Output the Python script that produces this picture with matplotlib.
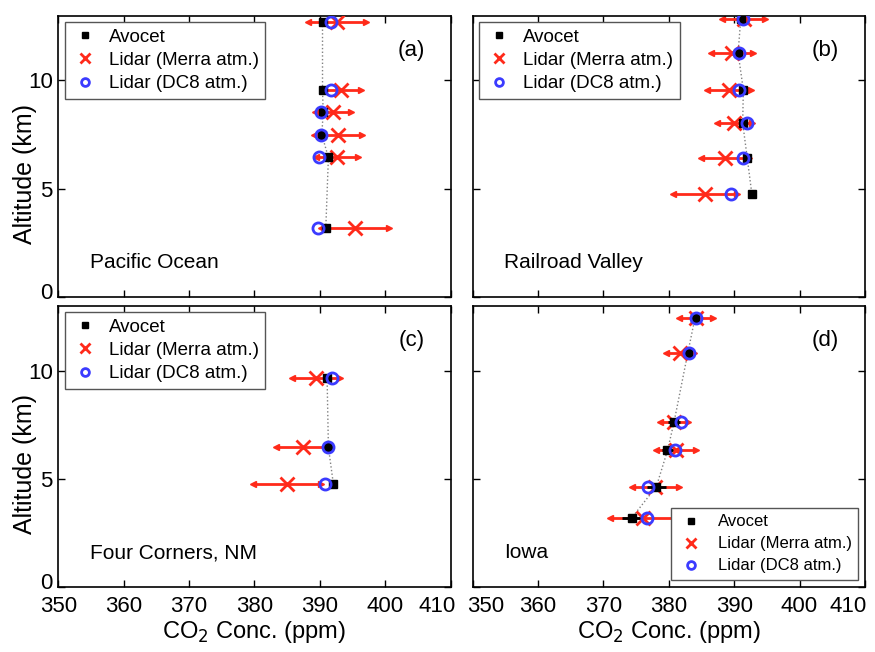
import matplotlib
matplotlib.use("Agg")
import matplotlib.pyplot as plt
import matplotlib.transforms as mtransforms

plt.rcParams['font.family'] = ['Liberation Sans', 'DejaVu Sans']

# altitude (km) of each measurement level, per site
alt_a = [12.7, 9.57, 8.54, 7.49, 6.44, 3.17]
alt_b = [12.84, 11.27, 9.57, 8.03, 6.41, 4.75]
alt_c = [9.65, 6.45, 4.77]
alt_d = [12.43, 10.8, 7.61, 6.30, 4.63, 3.17]

# Avocet in-situ CO2 (ppm) and its uncertainty
avo_a = [390.4, 390.4, 390.5, 390.3, 391.3, 390.9]
avo_a_err = [0.4, 0.4, 0.4, 0.4, 0.4, 0.4]
avo_b = [391.0, 390.6, 391.4, 391.3, 392.0, 392.7]
avo_b_err = [0.4, 0.4, 0.4, 0.4, 0.4, 0.4]
avo_c = [391.1, 391.3, 392.05]
avo_c_err = [0.5, 0.5, 0.6]
avo_d = [384.0, 382.9, 380.8, 379.8, 378.1, 374.3]
avo_d_err = [0.6, 0.7, 0.9, 0.8, 1.5, 1.5]

# lidar with Merra atmosphere (ppm) and its uncertainty
merra_a = [392.6, 393.3, 392.0, 392.8, 392.6, 395.4]
merra_a_err = [4.4, 3.0, 2.8, 3.7, 3.2, 5.2]
merra_b = [391.45, 389.65, 389.15, 390.0, 388.6, 385.6]
merra_b_err = [3.25, 3.25, 3.35, 2.7, 3.6, 4.9]
merra_c = [389.4, 387.4, 385.0]
merra_c_err = [3.7, 4.1, 5.2]
merra_d = [384.2, 381.7, 380.8, 381.1, 377.9, 376.0]
merra_d_err = [2.6, 2.2, 2.2, 3.0, 3.6, 5.0]

# lidar with DC8 atmosphere (ppm)
dc8_a = [391.65, 391.7, 390.1, 390.2, 389.9, 389.7]
dc8_b = [391.4, 390.7, 390.8, 392.0, 391.4, 389.5]
dc8_c = [391.8, 391.3, 390.8]
dc8_d = [384.1, 383.1, 381.85, 380.9, 376.85, 376.7]

panels = [
    ('(a)', 'Pacific Ocean', alt_a, avo_a, avo_a_err, merra_a, merra_a_err, dc8_a),
    ('(b)', 'Railroad Valley', alt_b, avo_b, avo_b_err, merra_b, merra_b_err, dc8_b),
    ('(c)', 'Four Corners, NM', alt_c, avo_c, avo_c_err, merra_c, merra_c_err, dc8_c),
    ('(d)', 'Iowa', alt_d, avo_d, avo_d_err, merra_d, merra_d_err, dc8_d),
]

xticks = [350, 360, 370, 380, 390, 400, 410]
yticks = [0, 5, 10]

RED = '#ff2a1a'
BLUE = '#3b3bff'

fig = plt.figure(figsize=(8.75, 6.52), dpi=100)
pos = [
    [0.0666, 0.545, 0.4485, 0.431],
    [0.5402, 0.545, 0.4483, 0.431],
    [0.0666, 0.1002, 0.4485, 0.431],
    [0.5402, 0.1002, 0.4483, 0.431],
]


def shift(label, dx, dy):
    # nudge a tick label by a few pixels (MATLAB keeps end labels inside)
    off = mtransforms.ScaledTranslation(dx / 100.0, dy / 100.0, fig.dpi_scale_trans)
    label.set_transform(label.get_transform() + off)


for i, (tag, site, alt, avo, avo_err, mer, mer_err, dc8) in enumerate(panels):
    ax = fig.add_axes(pos[i])
    lo = [m - e for m, e in zip(mer, mer_err)]
    hi = [m + e for m, e in zip(mer, mer_err)]

    ax.plot(avo, alt, ':', color='#808080', lw=1.0, zorder=1)
    ax.errorbar(mer, alt, xerr=mer_err, fmt='none', ecolor=RED, elinewidth=2, capsize=0, zorder=2)
    ax.plot(lo, alt, '<', color=RED, ms=5, zorder=2)
    ax.plot(hi, alt, '>', color=RED, ms=5, zorder=2)
    ax.errorbar(avo, alt, xerr=avo_err, fmt='none', ecolor='k', elinewidth=2, capsize=0, zorder=3)
    l2, = ax.plot(mer, alt, 'x', color=RED, ms=10, mew=2, zorder=3, label='Lidar (Merra atm.)')
    l1, = ax.plot(avo, alt, 's', color='k', ms=6, zorder=4, label='Avocet')
    l3, = ax.plot(dc8, alt, 'o', mfc='none', mec=BLUE, ms=8, mew=2, zorder=5, label='Lidar (DC8 atm.)')

    ax.set_xlim(350, 410)
    ax.set_ylim(0, 13)
    ax.set_xticks(xticks)
    ax.set_yticks(yticks)
    ax.tick_params(direction='in', top=True, right=True, labelsize=16, length=5, width=1)
    ax.tick_params(axis='x', pad=7)
    ax.tick_params(axis='y', pad=4)
    for s in ax.spines.values():
        s.set_linewidth(1.2)

    if i < 2:
        ax.set_xticklabels([])
    else:
        ax.set_xticklabels([str(t) for t in xticks])
        ax.set_xlabel('CO$_2$ Conc. (ppm)', fontsize=17, labelpad=1)
        xl = ax.get_xticklabels()
        if i == 2:
            xl[-1].set_horizontalalignment('right')
            shift(xl[-1], 5, 0)
        else:
            xl[0].set_horizontalalignment('left')
            shift(xl[0], -6, 0)
            xl[-1].set_horizontalalignment('right')
            shift(xl[-1], 2, 0)
    if i % 2 == 1:
        ax.set_yticklabels([])
    else:
        ax.set_yticklabels([str(t) for t in yticks])
        shift(ax.get_yticklabels()[0], 0, 6)
        ax.set_ylabel('Altitude (km)', fontsize=18)
        ax.yaxis.set_label_coords(-0.055, 0.435)

    ax.text(0.90, 0.875, tag, transform=ax.transAxes, fontsize=16, ha='center', va='center')
    ax.text(0.08, 0.12, site, transform=ax.transAxes, fontsize=15, ha='left', va='center')

    if i == 3:
        leg = ax.legend(handles=[l1, l2, l3], loc='lower right', fontsize=12,
                        fancybox=False, edgecolor='#555555', framealpha=1,
                        borderaxespad=0.4, handlelength=1.6, handletextpad=0.8,
                        labelspacing=0.42, borderpad=0.4, markerscale=0.7)
    else:
        leg = ax.legend(handles=[l1, l2, l3], loc='upper left', fontsize=13.5,
                        fancybox=False, edgecolor='#555555', framealpha=1,
                        borderaxespad=0.35, handlelength=1.4, handletextpad=0.6,
                        labelspacing=0.32, borderpad=0.35, markerscale=0.7)
    leg.get_frame().set_linewidth(1.0)

fig.savefig('out.png', dpi=100)
